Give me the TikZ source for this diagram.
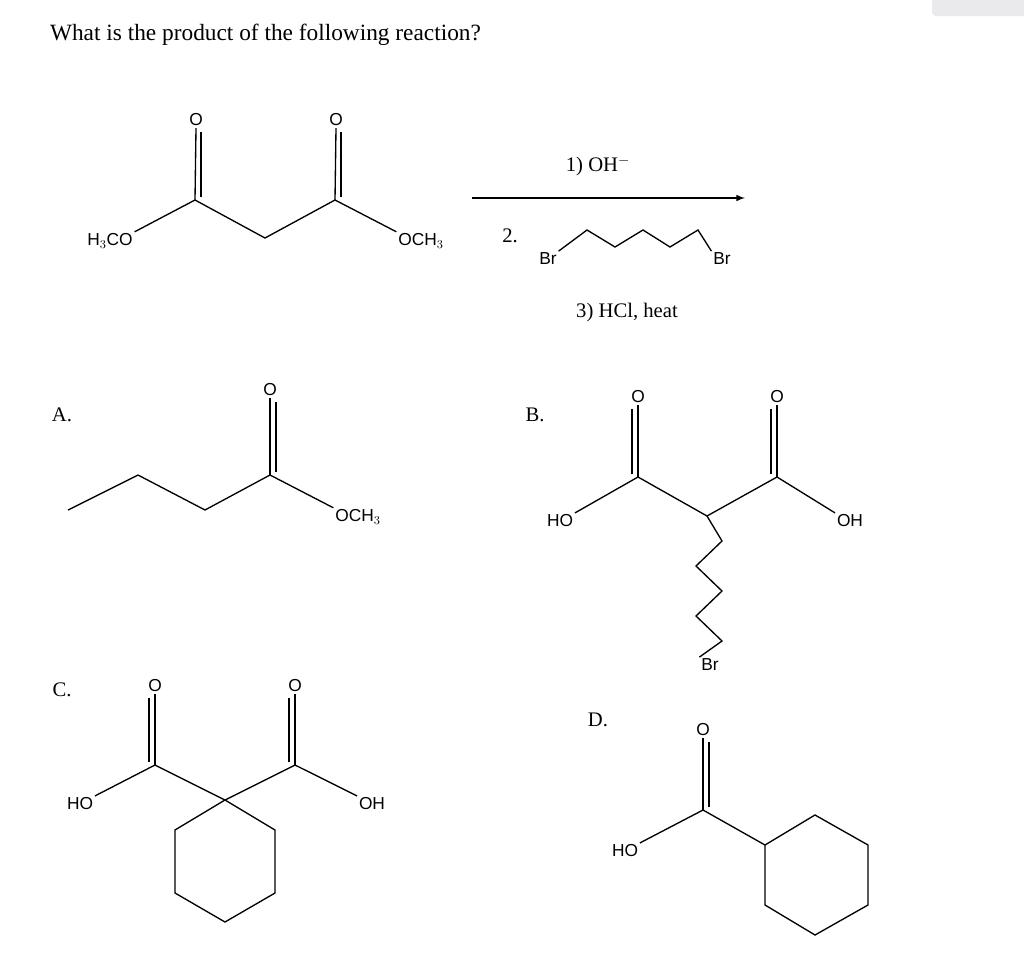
\documentclass[tikz,border=0pt]{standalone}
\usepackage{fontspec}
\setmainfont{Liberation Serif}
\newfontfamily\atomf{Liberation Sans}
\begin{document}
\begin{tikzpicture}[x=0.75pt,y=-0.75pt,line width=0.9pt,
  atom/.style={font=\atomf\fontsize{13}{14}\selectfont,inner sep=1pt},
  lbl/.style={font=\fontsize{15.5}{17}\selectfont,inner sep=0pt},
  bd/.style={line width=1pt}]
\useasboundingbox (0,0) rectangle (1024,971);
\fill[blue!8!gray!15,rounded corners=3pt] (932,-5) rectangle (1030,16);
\node[anchor=west,font=\fontsize{17.5}{20}\selectfont] (q) at (45,35) {What is the product of the following reaction?};
% top molecule
\node[atom] (a1) at (110,241) {H$_3$CO};
\node[atom] (o1) at (196,120) {O};
\node[atom] (o2) at (336,120) {O};
\node[atom] (a2) at (421,241) {OCH$_3$};
\draw[bd] (a1.north east) -- (195,200) -- (265,238) -- (335,200) -- (a2.north west);
\draw[bd] (195,200) -- (o1.south); \draw[bd] (201,197) -- (201,132);
\draw[bd] (335,200) -- (o2.south); \draw[bd] (341,197) -- (341,132);
% arrow
\coordinate (s) at (472,198); \coordinate (e) at (745,198);
\draw[line width=1.2pt,-latex] (s) -- (e);
\node[lbl] (r1) at (598,166) {1) OH$^{-}$};
\node[lbl] (r2) at (510,236) {2.};
\node[atom] (br1) at (548,259) {Br};
\node[atom] (br2) at (722,259) {Br};
\draw[bd] (br1.north east) -- (587,230) -- (615,247) -- (643,230) -- (670,247) -- (698,230) -- (br2.north west);
\node[lbl] (r3) at (627,313) {3) HCl, heat};
% A
\node[lbl] (la) at (62,415) {A.};
\node[atom] (ao) at (270,390) {O};
\node[atom] (aoc) at (358,517) {OCH$_3$};
\draw[bd] (68,510) -- (138,475) -- (205,510) -- (270,475) -- (aoc.north west);
\draw[bd] (270,475) -- (ao.south); \draw[bd] (276,472) -- (276,402);
% B
\node[lbl] (lb) at (535,415) {B.};
\node[atom] (bho) at (560,521) {HO};
\node[atom] (bo1) at (638,397) {O};
\node[atom] (bo2) at (777,397) {O};
\node[atom] (boh) at (850,521) {OH};
\node[atom] (bbr) at (710,665) {Br};
\draw[bd] (bho.north east) -- (638,477) -- (707,516) -- (777,477) -- (boh.north west);
\draw[bd] (638,477) -- (bo1.south); \draw[bd] (632,474) -- (632,409);
\draw[bd] (777,477) -- (bo2.south); \draw[bd] (771,474) -- (771,409);
\draw[bd] (707,516) -- (722,541) -- (696,566) -- (722,591) -- (696,616) -- (722,641) -- (bbr.north west);
% C
\node[lbl] (lc) at (62,690) {C.};
\node[atom] (cho) at (80,804) {HO};
\node[atom] (co1) at (155,686) {O};
\node[atom] (co2) at (295,686) {O};
\node[atom] (coh) at (372,804) {OH};
\draw[bd] (cho.north east) -- (155,765) -- (225,800) -- (295,765) -- (coh.north west);
\draw[bd] (155,765) -- (co1.south); \draw[bd] (149,762) -- (149,698);
\draw[bd] (295,765) -- (co2.south); \draw[bd] (289,762) -- (289,698);
\draw[bd] (225,800) -- (275,830) -- (275,893) -- (225,922) -- (175,893) -- (175,830) -- cycle;
% D
\node[lbl] (ld) at (598,720) {D.};
\node[atom] (do) at (703,730) {O};
\node[atom] (dho) at (625,851) {HO};
\draw[bd] (dho.north east) -- (703,810) -- (765,845);
\draw[bd] (703,810) -- (do.south); \draw[bd] (709,807) -- (709,742);
\draw[bd] (765,845) -- (815,815) -- (868,845) -- (868,905) -- (815,935) -- (765,905) -- cycle;
\end{tikzpicture}
\end{document}
